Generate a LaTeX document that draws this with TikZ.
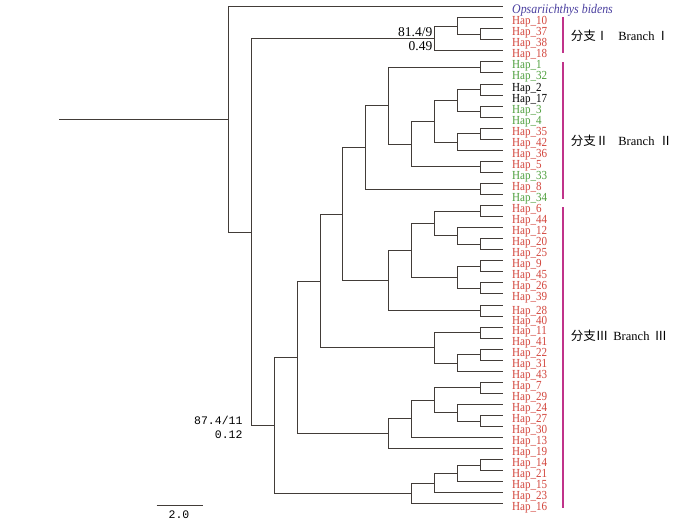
\documentclass[tikz,border=0pt]{standalone}
\usepackage{fontspec}
\setmainfont{Liberation Serif}
\newfontfamily\hapfont[FakeStretch=0.9]{Liberation Serif}
\newfontfamily\simfont{Liberation Mono}
\newfontfamily\cjk{Noto Sans CJK SC}
\usetikzlibrary{positioning}
\definecolor{hapred}{RGB}{210,69,60}
\definecolor{hapgreen}{RGB}{78,159,61}
\definecolor{outblue}{RGB}{74,63,159}
\definecolor{cladebar}{RGB}{192,51,138}
\definecolor{treeline}{RGB}{66,60,56}
\tikzset{
  branch/.style={draw=treeline, line width=1.5pt},
  hap/.style={anchor=base west, inner sep=0pt, xshift=9pt, yshift=-6.5pt,
              font=\hapfont\fontsize{12.3}{12.3}\selectfont},
  outgroup/.style={hap, outblue, font=\hapfont\itshape\fontsize{13.2}{13.2}\selectfont},
  support/.style={anchor=base east, inner sep=0pt, font=\fontsize{13.5}{13.5}\selectfont},
  simlabel/.style={anchor=east, inner sep=0pt, font=\simfont\fontsize{11.5}{11.5}\selectfont},
  bar/.style={draw=cladebar, line width=2pt},
  brlabel/.style={anchor=west, inner sep=0pt, font=\fontsize{12.5}{12.5}\selectfont}
}
\begin{document}
\begin{tikzpicture}[x=1pt,y=-1pt]
  \useasboundingbox (0,0) rectangle (700,520);
  % Tips
  \coordinate (tOps) at (503,6.5);
  \coordinate (t10) at (503,17.5);
  \coordinate (t37) at (503,28.5);
  \coordinate (t38) at (503,39.5);
  \coordinate (t18) at (503,50.5);
  \coordinate (t1)  at (503,61.5);
  \coordinate (t32) at (503,72.5);
  \coordinate (t2)  at (503,84.5);
  \coordinate (t17) at (503,95.5);
  \coordinate (t3)  at (503,106.5);
  \coordinate (t4)  at (503,117.5);
  \coordinate (t35) at (503,128.5);
  \coordinate (t42) at (503,139.5);
  \coordinate (t36) at (503,150.5);
  \coordinate (t5)  at (503,161.5);
  \coordinate (t33) at (503,172.5);
  \coordinate (t8)  at (503,183.5);
  \coordinate (t34) at (503,194.5);
  \coordinate (t6)  at (503,205.5);
  \coordinate (t44) at (503,216.5);
  \coordinate (t12) at (503,227.5);
  \coordinate (t20) at (503,238.5);
  \coordinate (t25) at (503,249.5);
  \coordinate (t9)  at (503,260.5);
  \coordinate (t45) at (503,271.5);
  \coordinate (t26) at (503,282.5);
  \coordinate (t39) at (503,293.5);
  \coordinate (t28) at (503,305.5);
  \coordinate (t40) at (503,316.5);
  \coordinate (t11) at (503,327.5);
  \coordinate (t41) at (503,338.5);
  \coordinate (t22) at (503,349.5);
  \coordinate (t31) at (503,360.5);
  \coordinate (t43) at (503,371.5);
  \coordinate (t7)  at (503,382.5);
  \coordinate (t29) at (503,393.5);
  \coordinate (t24) at (503,404.5);
  \coordinate (t27) at (503,415.5);
  \coordinate (t30) at (503,426.5);
  \coordinate (t13) at (503,437.5);
  \coordinate (t19) at (503,448.5);
  \coordinate (t14) at (503,459.5);
  \coordinate (t21) at (503,470.5);
  \coordinate (t15) at (503,481.5);
  \coordinate (t23) at (503,492.5);
  \coordinate (t16) at (503,503.5);
  % Tip labels
  \node[outgroup] (lOps) at (tOps) {Opsariichthys bidens};
  \node[hap,hapred]   (l10) at (t10) {Hap\_10};
  \node[hap,hapred]   (l37) at (t37) {Hap\_37};
  \node[hap,hapred]   (l38) at (t38) {Hap\_38};
  \node[hap,hapred]   (l18) at (t18) {Hap\_18};
  \node[hap,hapgreen] (l1)  at (t1)  {Hap\_1};
  \node[hap,hapgreen] (l32) at (t32) {Hap\_32};
  \node[hap]          (l2)  at (t2)  {Hap\_2};
  \node[hap]          (l17) at (t17) {Hap\_17};
  \node[hap,hapgreen] (l3)  at (t3)  {Hap\_3};
  \node[hap,hapgreen] (l4)  at (t4)  {Hap\_4};
  \node[hap,hapred]   (l35) at (t35) {Hap\_35};
  \node[hap,hapred]   (l42) at (t42) {Hap\_42};
  \node[hap,hapred]   (l36) at (t36) {Hap\_36};
  \node[hap,hapred]   (l5)  at (t5)  {Hap\_5};
  \node[hap,hapgreen] (l33) at (t33) {Hap\_33};
  \node[hap,hapred]   (l8)  at (t8)  {Hap\_8};
  \node[hap,hapgreen] (l34) at (t34) {Hap\_34};
  \node[hap,hapred]   (l6)  at (t6)  {Hap\_6};
  \node[hap,hapred]   (l44) at (t44) {Hap\_44};
  \node[hap,hapred]   (l12) at (t12) {Hap\_12};
  \node[hap,hapred]   (l20) at (t20) {Hap\_20};
  \node[hap,hapred]   (l25) at (t25) {Hap\_25};
  \node[hap,hapred]   (l9)  at (t9)  {Hap\_9};
  \node[hap,hapred]   (l45) at (t45) {Hap\_45};
  \node[hap,hapred]   (l26) at (t26) {Hap\_26};
  \node[hap,hapred]   (l39) at (t39) {Hap\_39};
  \node[hap,hapred,yshift=-2.5pt] (l28) at (t28) {Hap\_28};
  \node[hap,hapred,yshift=-1pt] (l40) at (t40) {Hap\_40};
  \node[hap,hapred]   (l11) at (t11) {Hap\_11};
  \node[hap,hapred]   (l41) at (t41) {Hap\_41};
  \node[hap,hapred]   (l22) at (t22) {Hap\_22};
  \node[hap,hapred]   (l31) at (t31) {Hap\_31};
  \node[hap,hapred]   (l43) at (t43) {Hap\_43};
  \node[hap,hapred]   (l7)  at (t7)  {Hap\_7};
  \node[hap,hapred]   (l29) at (t29) {Hap\_29};
  \node[hap,hapred]   (l24) at (t24) {Hap\_24};
  \node[hap,hapred]   (l27) at (t27) {Hap\_27};
  \node[hap,hapred]   (l30) at (t30) {Hap\_30};
  \node[hap,hapred]   (l13) at (t13) {Hap\_13};
  \node[hap,hapred]   (l19) at (t19) {Hap\_19};
  \node[hap,hapred]   (l14) at (t14) {Hap\_14};
  \node[hap,hapred]   (l21) at (t21) {Hap\_21};
  \node[hap,hapred]   (l15) at (t15) {Hap\_15};
  \node[hap,hapred]   (l23) at (t23) {Hap\_23};
  \node[hap,hapred]   (l16) at (t16) {Hap\_16};
  % Inner nodes, branch I
  \coordinate (n3738) at (480.5,34.5);
  \coordinate (n10)   at (457.5,26.5);
  \coordinate (nBrI)  at (434.5,38.5);
  % Inner nodes, branch II
  \coordinate (n132)  at (480.5,67.5);
  \coordinate (n217)  at (480.5,89.5);
  \coordinate (n34)   at (480.5,111.5);
  \coordinate (n2to4) at (457.5,100.5);
  \coordinate (n3542) at (480.5,133.5);
  \coordinate (n36)   at (457.5,142.5);
  \coordinate (n2to36) at (434.5,121.5);
  \coordinate (n533)  at (480.5,166.5);
  \coordinate (n2to33) at (411.5,144.5);
  \coordinate (n1to33) at (388.5,105.5);
  \coordinate (n834)  at (480.5,189.5);
  \coordinate (nBrII) at (365.5,147.5);
  % Inner nodes, branch III
  \coordinate (n644)  at (480.5,211.5);
  \coordinate (n2025) at (480.5,244.5);
  \coordinate (n12)   at (457.5,235.5);
  \coordinate (n6to25) at (434.5,223.5);
  \coordinate (n945)  at (480.5,266.5);
  \coordinate (n2639) at (480.5,288.5);
  \coordinate (n9to39) at (457.5,277.5);
  \coordinate (n6to39) at (411.5,250.5);
  \coordinate (n2840) at (480.5,310.5);
  \coordinate (n6to40) at (388.5,280.5);
  \coordinate (nIIa)  at (342.5,214.5);
  \coordinate (n1141) at (480.5,332.5);
  \coordinate (n2231) at (480.5,354.5);
  \coordinate (n43)   at (457.5,363.5);
  \coordinate (n11to43) at (434.5,347.5);
  \coordinate (nIIb)  at (320.5,281.5);
  \coordinate (n729)  at (480.5,387.5);
  \coordinate (n2730) at (480.5,421.5);
  \coordinate (n24)   at (457.5,412.5);
  \coordinate (n7to30) at (434.5,400.5);
  \coordinate (n13)   at (411.5,418.5);
  \coordinate (n19)   at (388.5,433.5);
  \coordinate (nIIc)  at (297.5,357.5);
  \coordinate (n1421) at (480.5,465.5);
  \coordinate (n15)   at (457.5,473.5);
  \coordinate (n23)   at (434.5,483.5);
  \coordinate (n16)   at (411.5,493.5);
  \coordinate (nBrIII) at (274.5,425.5);
  % Ingroup and root
  \coordinate (nIn)   at (251.5,232.5);
  \coordinate (nRoot) at (228.5,119.5);
  \coordinate (nBase) at (59,119.5);
  % Draw branch I
  \draw[branch] (n3738) |- (t37) (n3738) |- (t38);
  \draw[branch] (n10) |- (t10) (n10) |- (n3738);
  \draw[branch] (nBrI) |- (n10) (nBrI) |- (t18);
  % Draw branch II
  \draw[branch] (n132) |- (t1) (n132) |- (t32);
  \draw[branch] (n217) |- (t2) (n217) |- (t17);
  \draw[branch] (n34) |- (t3) (n34) |- (t4);
  \draw[branch] (n2to4) |- (n217) (n2to4) |- (n34);
  \draw[branch] (n3542) |- (t35) (n3542) |- (t42);
  \draw[branch] (n36) |- (n3542) (n36) |- (t36);
  \draw[branch] (n2to36) |- (n2to4) (n2to36) |- (n36);
  \draw[branch] (n533) |- (t5) (n533) |- (t33);
  \draw[branch] (n2to33) |- (n2to36) (n2to33) |- (n533);
  \draw[branch] (n1to33) |- (n132) (n1to33) |- (n2to33);
  \draw[branch] (n834) |- (t8) (n834) |- (t34);
  \draw[branch] (nBrII) |- (n1to33) (nBrII) |- (n834);
  % Draw branch III
  \draw[branch] (n644) |- (t6) (n644) |- (t44);
  \draw[branch] (n2025) |- (t20) (n2025) |- (t25);
  \draw[branch] (n12) |- (t12) (n12) |- (n2025);
  \draw[branch] (n6to25) |- (n644) (n6to25) |- (n12);
  \draw[branch] (n945) |- (t9) (n945) |- (t45);
  \draw[branch] (n2639) |- (t26) (n2639) |- (t39);
  \draw[branch] (n9to39) |- (n945) (n9to39) |- (n2639);
  \draw[branch] (n6to39) |- (n6to25) (n6to39) |- (n9to39);
  \draw[branch] (n2840) |- (t28) (n2840) |- (t40);
  \draw[branch] (n6to40) |- (n6to39) (n6to40) |- (n2840);
  \draw[branch] (nIIa) |- (nBrII) (nIIa) |- (n6to40);
  \draw[branch] (n1141) |- (t11) (n1141) |- (t41);
  \draw[branch] (n2231) |- (t22) (n2231) |- (t31);
  \draw[branch] (n43) |- (n2231) (n43) |- (t43);
  \draw[branch] (n11to43) |- (n1141) (n11to43) |- (n43);
  \draw[branch] (nIIb) |- (nIIa) (nIIb) |- (n11to43);
  \draw[branch] (n729) |- (t7) (n729) |- (t29);
  \draw[branch] (n2730) |- (t27) (n2730) |- (t30);
  \draw[branch] (n24) |- (t24) (n24) |- (n2730);
  \draw[branch] (n7to30) |- (n729) (n7to30) |- (n24);
  \draw[branch] (n13) |- (n7to30) (n13) |- (t13);
  \draw[branch] (n19) |- (n13) (n19) |- (t19);
  \draw[branch] (nIIc) |- (nIIb) (nIIc) |- (n19);
  \draw[branch] (n1421) |- (t14) (n1421) |- (t21);
  \draw[branch] (n15) |- (n1421) (n15) |- (t15);
  \draw[branch] (n23) |- (n15) (n23) |- (t23);
  \draw[branch] (n16) |- (n23) (n16) |- (t16);
  \draw[branch] (nBrIII) |- (nIIc) (nBrIII) |- (n16);
  % Draw root
  \draw[branch] (nIn) |- (nBrI) (nIn) |- (nBrIII);
  \draw[branch] (nRoot) |- (tOps) (nRoot) |- (nIn);
  \draw[branch] (nBase) -- (nRoot);
  % Support values
  \node[support] (s1a) at (432.5,36) {81.4/9};
  \node[support] (s1b) at (432.5,50) {0.49};
  \node[simlabel] (s2a) at (242.7,420) {87.4/11};
  \node[simlabel] (s2b) at (242.7,435) {0.12};
  % Clade bars and labels
  \draw[bar] (563,17) -- (563,53);
  \draw[bar] (563,62) -- (563,199);
  \draw[bar] (563,207) -- (563,508);
  \node[brlabel] (brI)   at (570.7,36)    {\cjk 分支Ⅰ\hspace{10pt}\rmfamily Branch\hspace{2pt}\cjk Ⅰ};
  \node[brlabel] (brII)  at (570.7,140.7) {\cjk 分支Ⅱ\hspace{10pt}\rmfamily Branch\hspace{5pt}\cjk Ⅱ};
  \node[brlabel] (brIII) at (570.7,335.7) {\cjk 分支Ⅲ\hspace{5pt}\rmfamily Branch\hspace{5pt}\cjk Ⅲ};
  % Scale bar
  \draw[branch] (156.7,505.5) coordinate (sb1) -- (203.3,505.5) coordinate (sb2);
  \node[simlabel, anchor=center] (sbl) at (179,514.3) {2.0};
\end{tikzpicture}
\end{document}
